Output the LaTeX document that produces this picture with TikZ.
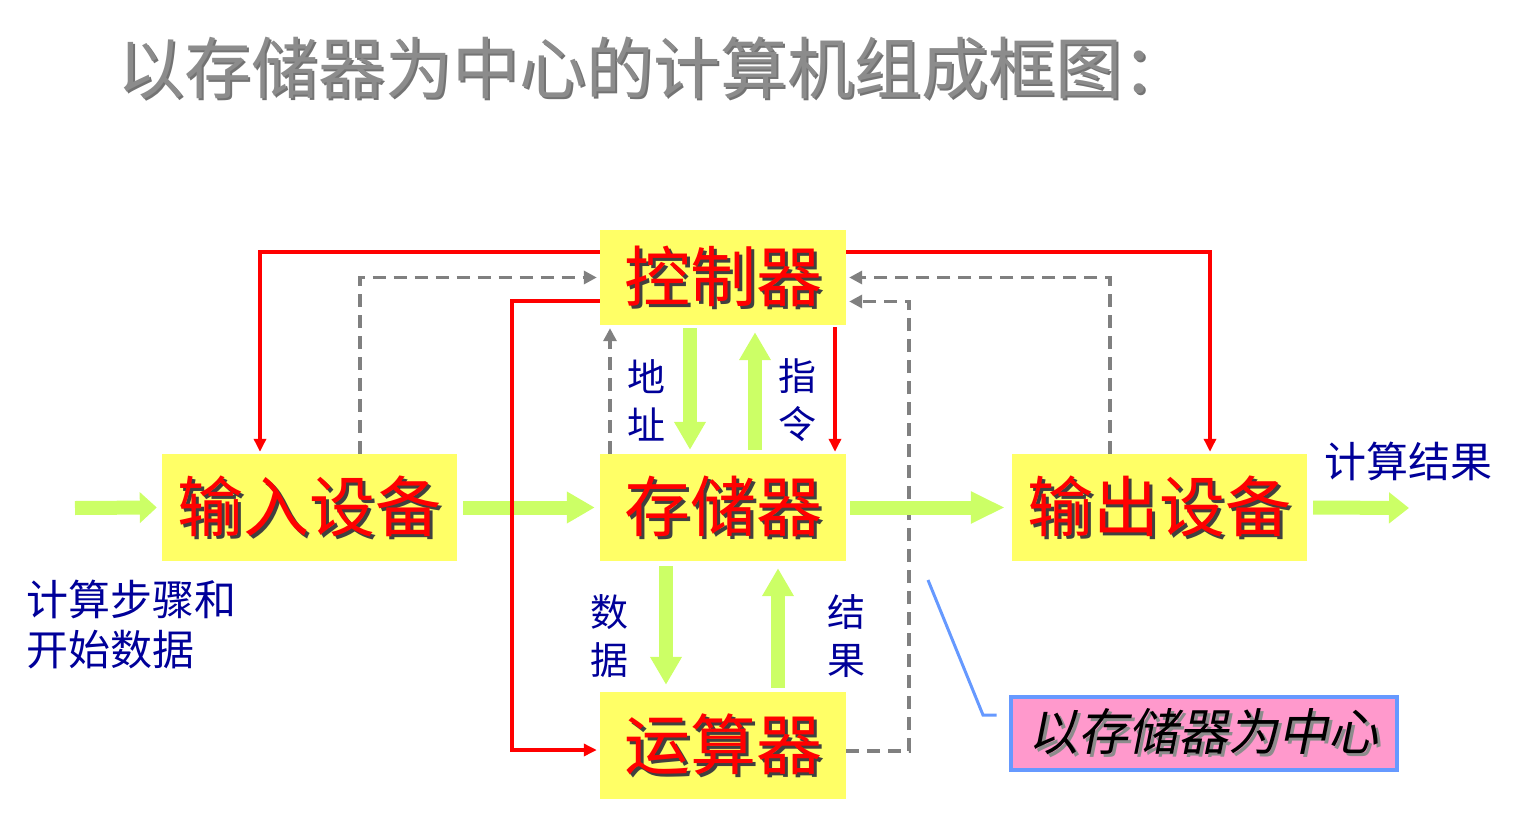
\documentclass[tikz,border=0pt]{standalone}
\usepackage{fontspec}
\setmainfont{Noto Sans CJK SC}
\newfontfamily\cjkit[FakeSlant=0.2]{Noto Sans CJK SC}
\usetikzlibrary{arrows.meta,calc}
\definecolor{boxyellow}{HTML}{FFFF66}
\definecolor{boxred}{HTML}{FF0000}
\definecolor{arrgreen}{HTML}{CCFF66}
\definecolor{dgray}{HTML}{808080}
\definecolor{navy}{HTML}{000099}
\definecolor{pinkfill}{HTML}{FF99CC}
\definecolor{callblue}{HTML}{6699FF}
\definecolor{titlegray}{HTML}{8C8C8C}
\newcommand{\shtext}[3]{\rlap{\kern#3\raisebox{-#3}{\textcolor{#2}{#1}}}#1}
\tikzset{
  unitbox/.style={fill=boxyellow, draw=none, inner sep=0pt, text=boxred,
    font=\fontsize{66}{72}\selectfont},
  greenarr/.style={draw=arrgreen, line width=14pt, -{Triangle[length=28pt,width=30pt]}},
  redline/.style={draw=boxred, line width=3.6pt, -{Triangle[length=13pt,width=12pt]}},
  grayline/.style={draw=dgray, line width=3.6pt, dash pattern=on 13pt off 8pt, -{Triangle[length=13pt,width=13pt]}},
  lab/.style={text=navy, font=\fontsize{38}{48}\selectfont, align=center, inner sep=0pt},
}
\begin{document}
\begin{tikzpicture}[x=1pt,y=-1pt]
\useasboundingbox (0,0) rectangle (1519,830);
% title
\node[anchor=west, inner sep=0pt, text=titlegray, font=\fontsize{67}{72}\selectfont] (title) at (117,69)
  {\shtext{以存储器为中心的计算机组成框图：}{black!55}{2.5pt}};
% boxes
\node[unitbox, minimum width=246pt, minimum height=95pt] (ctrl) at (723,277.5) {\shtext{控制器}{black!75}{3pt}};
\node[unitbox, minimum width=295pt, minimum height=107pt] (inp) at (309.5,507.5) {\shtext{输入设备}{black!75}{3pt}};
\node[unitbox, minimum width=246pt, minimum height=107pt] (mem) at (723,507.5) {\shtext{存储器}{black!75}{3pt}};
\node[unitbox, minimum width=295pt, minimum height=107pt] (out) at (1159.5,507.5) {\shtext{输出设备}{black!75}{3pt}};
\node[unitbox, minimum width=246pt, minimum height=107pt] (alu) at (723,745.5) {\shtext{运算器}{black!75}{3pt}};
\node[fill=pinkfill, draw=callblue, line width=4pt, minimum width=386pt, minimum height=73pt, inner sep=0pt,
  font=\fontsize{50}{56}\cjkit] (pink) at (1203.5,733.5) {\shtext{以存储器为中心}{black!45}{3pt}};
% labels
\node[lab] (laddr) at (646,400) {地\\址};
\node[lab] (linst) at (797,400) {指\\令};
\node[lab] (ldata) at (609,636) {数\\据};
\node[lab] (lres) at (846,636) {结\\果};
\node[lab, anchor=west, align=left, font=\fontsize{42}{50}\selectfont] (lin) at (26,625) {计算步骤和\\开始数据};
\node[lab, font=\fontsize{42}{50}\selectfont] (lout) at (1408,461) {计算结果};
% free ends
\coordinate (srcin) at (75,508);
\coordinate (dstout) at (1409,508);
\coordinate (cstart) at (928,580);
\coordinate (cbend) at (983,715);
% gray dashed lines
\draw[grayline] ([xshift=50.5pt]inp.north) |- ([xshift=-3pt]ctrl.west);
\draw[grayline] ([xshift=-113pt]mem.north) -- ([xshift=-113pt,yshift=-3pt]ctrl.south);
\draw[grayline] ([xshift=-49.5pt]out.north) |- ([xshift=3pt]ctrl.east);
\draw[grayline] ([yshift=-5.5pt]alu.east) -- ++(63,0) |- ([xshift=3pt,yshift=-24pt]ctrl.east);
% green arrows
\draw[greenarr, -{Triangle[length=17pt,width=30pt]}] (srcin) -- ([xshift=-5pt]inp.west);
\draw[greenarr] ([xshift=6pt]inp.east) -- ([xshift=-5pt]mem.west);
\draw[greenarr, -{Triangle[length=34pt,width=30pt]}] ([xshift=4pt]mem.east) -- ([xshift=-7pt]out.west);
\draw[greenarr, -{Triangle[length=20pt,width=30pt]}] ([xshift=6pt]out.east) -- (dstout);
\draw[greenarr] ([xshift=-33pt,yshift=-3pt]ctrl.south) -- ([xshift=-33pt,yshift=4pt]mem.north);
\draw[greenarr] ([xshift=32pt,yshift=4pt]mem.north) -- ([xshift=32pt,yshift=-7pt]ctrl.south);
\draw[greenarr] ([xshift=-57pt,yshift=-5pt]mem.south) -- ([xshift=-57pt,yshift=7pt]alu.north);
\draw[greenarr] ([xshift=55pt,yshift=4pt]alu.north) -- ([xshift=55pt,yshift=-7pt]mem.south);
% red control lines
\draw[redline] ([yshift=25.5pt]ctrl.west) -| ([xshift=-49.5pt,yshift=2pt]inp.north);
\draw[redline] ([yshift=-23.5pt]ctrl.west) -- ++(-88,0) |- ([xshift=-3pt,yshift=-4.5pt]alu.west);
\draw[redline] ([yshift=25.5pt]ctrl.east) -| ([xshift=50.5pt,yshift=2pt]out.north);
\draw[redline] ([xshift=112pt,yshift=-2pt]ctrl.south) -- ([xshift=112pt,yshift=2pt]mem.north);
% callout
\draw[callblue, line width=3pt] (cstart) -- (cbend) -- ([xshift=-12pt,yshift=18.5pt]pink.west);
\end{tikzpicture}
\end{document}
